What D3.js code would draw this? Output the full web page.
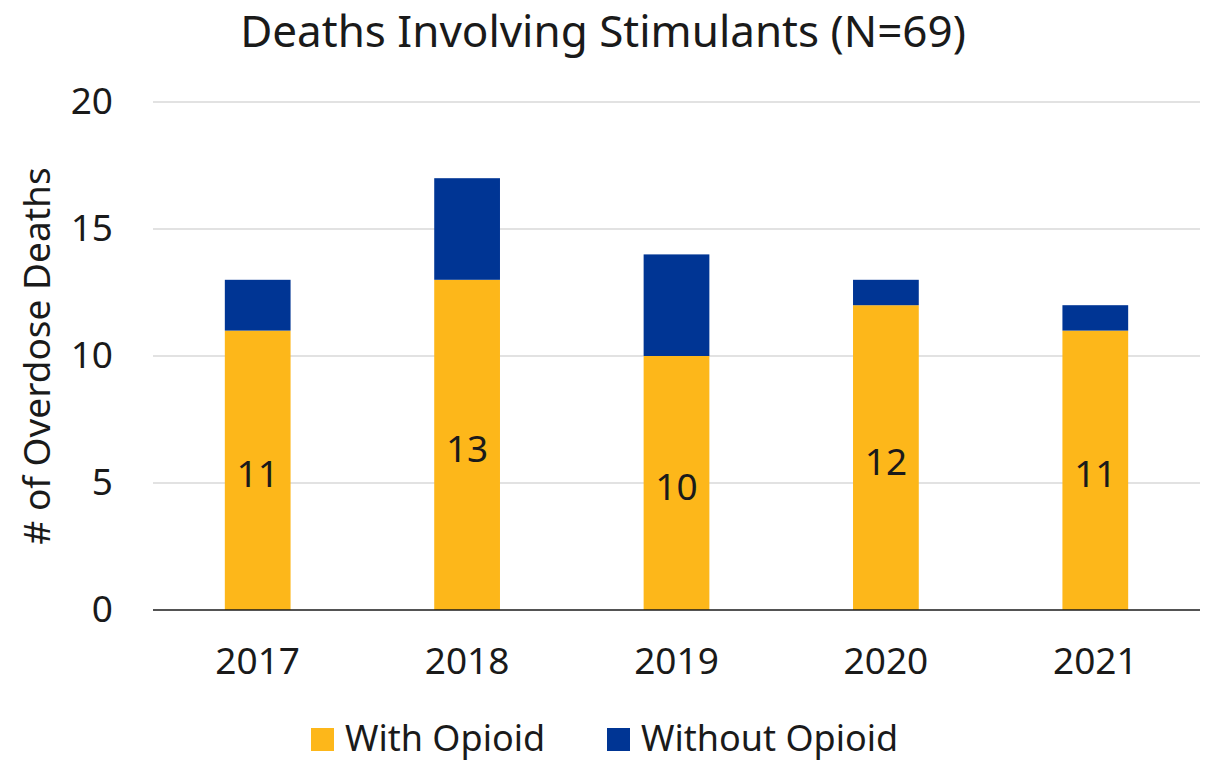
<!DOCTYPE html>
<html>
<head>
<meta charset="utf-8">
<script src="https://cdn.jsdelivr.net/npm/d3@7"></script>
<style>
  body { margin: 0; background: #fff; }
  text { font-family: "Noto Sans", "Open Sans", sans-serif; fill: #1a1a1a; }
</style>
</head>
<body>
<div id="content"></div>
<script>
const svgWidth = 1212, svgHeight = 762;

const years = ["2017", "2018", "2019", "2020", "2021"];
const withOpioid = [11, 13, 10, 12, 11];
const withoutOpioid = [2, 4, 4, 1, 1];
const seriesNames = ["With Opioid", "Without Opioid"];
const seriesColors = ["#FDB71A", "#003594"];
const yTicks = [0, 5, 10, 15, 20];

const margin = {top: 102, right: 12, bottom: 152, left: 153};

const svg = d3.select("#content").append("svg")
  .attr("width", svgWidth)
  .attr("height", svgHeight);

const x = d3.scaleBand()
  .domain(years)
  .range([margin.left, svgWidth - margin.right])
  .paddingInner(0.686)
  .paddingOuter(0.343);

const y = d3.scaleLinear()
  .domain([0, 20])
  .range([svgHeight - margin.bottom, margin.top]);

// gridlines
svg.append("g")
  .selectAll("line")
  .data(yTicks.filter(d => d > 0)).enter().append("line")
  .attr("x1", margin.left)
  .attr("x2", svgWidth - margin.right)
  .attr("y1", d => y(d))
  .attr("y2", d => y(d))
  .attr("stroke", "#d9d9d9")
  .attr("stroke-width", 1.5);

// stacked bars
const rows = years.map((yr, i) => ({year: yr, "With Opioid": withOpioid[i], "Without Opioid": withoutOpioid[i]}));
const stacked = d3.stack().keys(seriesNames)(rows);

svg.append("g")
  .selectAll("g")
  .data(stacked).enter().append("g")
  .attr("fill", (d, i) => seriesColors[i])
  .selectAll("rect")
  .data(d => d).enter().append("rect")
  .attr("x", d => x(d.data.year))
  .attr("width", x.bandwidth())
  .attr("y", d => y(d[1]))
  .attr("height", d => y(d[0]) - y(d[1]));

// data labels
svg.append("g")
  .selectAll("text")
  .data(years).enter().append("text")
  .attr("x", d => x(d) + x.bandwidth() / 2)
  .attr("y", (d, i) => y(withOpioid[i] / 2) + 4)
  .attr("dy", "0.35em")
  .attr("text-anchor", "middle")
  .style("font-size", "37px")
  .text((d, i) => withOpioid[i]);

// x axis
const xAxis = svg.append("g")
  .attr("transform", `translate(0,${y(0)})`)
  .call(d3.axisBottom(x).tickSize(0).tickPadding(38));
xAxis.select(".domain").attr("stroke", "#1a1a1a").attr("stroke-width", 1.5)
  .attr("d", `M${margin.left},0H${svgWidth - margin.right}`);
xAxis.selectAll("text").style("font-size", "37px").attr("fill", "#1a1a1a");

// y axis
const yAxis = svg.append("g")
  .attr("transform", `translate(${margin.left},0)`)
  .call(d3.axisLeft(y).tickValues(yTicks).tickSize(0).tickPadding(40));
yAxis.select(".domain").remove();
yAxis.selectAll("text").style("font-size", "37px").attr("fill", "#1a1a1a");

// title
svg.append("text")
  .attr("x", 603)
  .attr("y", 47)
  .attr("text-anchor", "middle")
  .style("font-size", "44px")
  .text("Deaths Involving Stimulants (N=69)");

// y axis title
svg.append("text")
  .attr("transform", `translate(50,${(y(0) + y(20)) / 2}) rotate(-90)`)
  .attr("text-anchor", "middle")
  .style("font-size", "37px")
  .text("# of Overdose Deaths");

// legend
const legendX = [311, 607];
const legend = svg.append("g")
  .selectAll("g")
  .data(seriesNames).enter().append("g")
  .attr("transform", (d, i) => `translate(${legendX[i]},728)`);
legend.append("rect")
  .attr("width", 23).attr("height", 23)
  .attr("fill", (d, i) => seriesColors[i]);
legend.append("text")
  .attr("x", 34).attr("y", 23)
  .style("font-size", "36px")
  .text(d => d);
</script>
</body>
</html>
